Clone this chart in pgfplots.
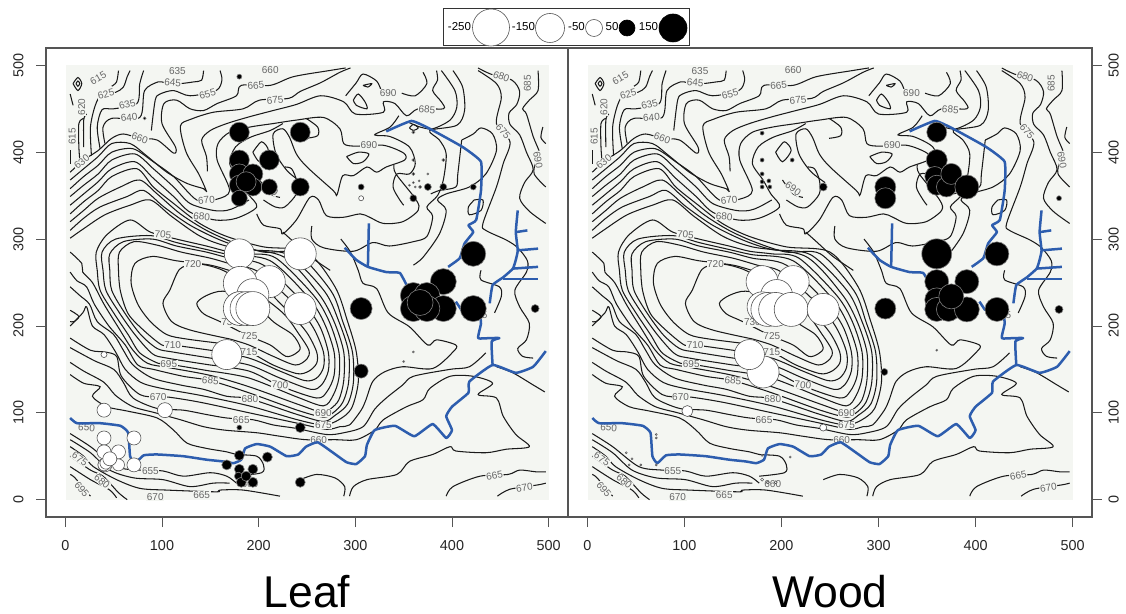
\documentclass[border=0pt]{standalone}
\usepackage{fontspec}
\setmainfont{Liberation Sans}
\usepackage{pgfplots}
\usepackage{pgfplotstable}
\pgfplotsset{compat=1.18}
\definecolor{bgc}{HTML}{F4F6F2}
\definecolor{river}{HTML}{2D5DAE}
\definecolor{boxc}{HTML}{555555}
\definecolor{lab}{HTML}{666666}
\definecolor{ctc}{HTML}{1A1A1A}
\tikzset{lbl/.style={fill=bgc,text=lab,inner sep=0.6pt,font=\fontsize{10}{10}\selectfont}}

\pgfplotstableread{
x y r
40 167 3
306 347 2.5
103 103 7.5
40 103 7
40 71 7
71 71 7
40 55 7
55 55 7
71 40 7
55 40 6
41 40 7
40 40 6
42 42 6
46 47 7
180 283 15
243 283 16
211 251 16
181 249 17
194 236 16
243 220 16
180 222 15
181 220 17
188 220 17
194 220 17
167 167 15
}\leafwhite
\pgfplotstableread{
x y r
180 487 2.5
82 439 1.5
180 83 2.5
243 83 5
306 360 3
360 347 3.5
375 360 3.5
391 360 3.5
422 360 3
360 423 1.5
360 391 1.5
391 391 1.5
375 375 1
360 375 1.5
366 367 1
360 365 1
356 362 1
362 360 1
367 360 1.5
360 170 1
350 159 1
180 423 10
243 423 10
180 391 10
211 391 10
180 375 10
194 375 10
180 362 10
194 360 9
211 360 8
243 360 9
187 366 10
180 347 8
180 51 5
209 49 5
167 40 5
180 35 5
194 35 5
179 27 4
182 20 5
194 20 5
187 27 5
243 20 5
422 283 12.5
391 251 13
360 235 13
374 235 13
360 220 13
391 220 13
374 220 13
367 227 13
422 220 13
306 220 11
306 148 7
486 220 4
}\leafblack
\pgfplotstableread{
x y r
243 83 3.5
103 102 5.5
212 251 16
180 251 16
195 235 16
180 222 15
186 219 17
194 219 17
210 219 17
243 219 16
181 147 16
167 167 15
71 71 1
71 75 1
71 40 1
40 54 1
43 40 1
55 40 1
180 23 1.5
186 20 1.5
194 20 1.5
}\woodwhite
\pgfplotstableread{
x y r
180 422 2
180 391 2
211 391 2
180 375 2
180 366 2
187 367 2
188 360 2
180 360 2
243 360 4
486 347 2.5
486 219 4
306 147 3.5
209 49 1
180 51 1
46 47 1
360 172 1
360 423 10
360 391 10.5
358 372 10
360 362 10
370 360 10
375 375 10.5
391 360 12
307 360 10.5
307 347 10.5
360 283 15
422 283 12
360 251 12
391 251 12
360 230 12
360 219 12
372 219 12
391 219 12.5
375 234 12.5
422 219 12
307 220 10.5
}\woodblack

\newcommand{\C}[1]{\addplot[ct] coordinates {#1};}
\newcommand{\LL}[4]{\node[lbl,rotate=#3] at (axis cs:#1,#2) {#4};}
\newcommand{\R}[1]{\addplot[riv] coordinates {#1};}

\newcommand{\terrain}{%
\addplot[draw=none,fill=bgc] coordinates {(1,0)(500,0)(500,500)(1,500)} --cycle;
% top left
\C{(8,479)(13,486)(17,479)(13,471)(8,479)}
\C{(11,479)(13,482)(15,479)(13,476)(11,479)}
\C{(5,467)(8,454)}
\C{(5,402)(5,387)}
\C{(19,439)(14,433)(14,406)(15,391)}
\C{(19,406)(19,437)(22,444)}
\C{(27,396)(26,429)(31,454)(38,467)(52,469)(60,475)(64,487)(67,494)}
\C{(36,404)(33,429)(38,449)(50,450)(74,456)(77,479)(81,494)}
\C{(41,410)(39,429)(48,439)(77,440)(82,471)(96,481)(103,480)(118,479)(133,481)(141,483)(143,494)}
\C{(55,494)(53,481)(48,476)}
\C{(89,425)(93,460)(98,467)(112,471)(129,465)(156,471)(162,483)(160,494)}
% peak bundle
\C{(5,377)(19,391)(34,402)(48,416)(60,421)(77,416)(95,414)(112,399)(114,406)(100,433)(102,456)(115,460)(129,450)(143,448)(157,456)(177,465)(182,477)(212,477)(236,487)(273,494)(290,497)}
\C{(5,368)(19,381)(34,395)(48,410)(67,410)(84,396)(105,377)(126,364)(143,358)(146,355)(138,375)(125,400)(119,430)(130,438)(153,446)(184,450)(201,460)(231,462)(243,470)(264,480)(284,492)(295,497)}
\C{(5,358)(19,372)(34,385)(48,400)(70,404)(91,389)(112,372)(136,345)(157,346)(170,356)(157,391)(158,410)(170,423)(191,429)(215,433)(239,437)(267,440)(284,427)(288,410)(300,407)(329,408)(350,399)(351,391)(332,383)(322,377)(312,383)(298,373)(287,373)(281,351)(277,356)(250,383)(239,398)(232,417)(225,427)(215,421)(218,398)(230,378)(245,365)}
\C{(147,378)(146,395)(141,414)(150,425)(167,433)(191,441)(215,448)(239,455)(264,465)(288,458)(300,444)(329,446)(329,458)(341,456)(353,442)(365,450)(391,450)(389,458)(380,471)(385,483)(384,494)}
\C{(5,349)(19,362)(34,375)(48,391)(72,398)(91,381)(112,360)(129,341)(153,333)(167,333)(177,337)(190,345)}
\C{(5,339)(19,352)(34,366)(48,381)(72,389)(91,370)(112,349)(129,331)(155,322)(177,324)(198,337)(189,352)(181,368)(170,387)(176,406)(191,417)(212,425)(225,433)}
\C{(194,400)(203,412)(210,402)(201,389)(194,400)}
\C{(201,368)(212,352)(222,348)}
\C{(227,383)(234,381)(239,368)(239,352)(227,337)(217,337)(205,345)}
\C{(198,329)(205,316)(222,312)(225,306)(239,322)(253,348)(262,345)(270,327)(287,325)(305,329)(315,325)(329,318)(349,320)(365,333)(363,345)(342,375)(340,385)}
\C{(290,465)(301,480)(308,490)(322,482)(327,470)}
% rings and left-edge lines
\C{(5,329)(19,343)(34,356)(48,372)(74,381)(91,360)(112,341)(139,318)(167,303)(205,291)(250,285)(279,245)(292,205)(301,170)(303,135)(296,105)(283,92)(267,86)(240,92)(190,108)(140,120)(100,128)(78,135)(62,150)(52,170)(40,190)(28,200)(22,222)(18,215)(5,200)}
\C{(5,320)(19,333)(34,347)(57,360)(77,368)(95,352)(119,329)(146,310)(174,296)(205,285)(240,283)(275,240)(287,205)(297,170)(298,135)(292,110)(279,97)(267,90)(240,98)(191,116)(167,119)(143,127)(119,132)(90,140)(70,155)(60,172)(50,190)(33,205)(25,225)(15,235)(5,245)}
\C{(5,310)(19,324)(36,337)(64,349)(81,356)(102,337)(129,316)(160,299)(190,288)(230,282)(268,240)(283,205)(293,170)(293,135)(287,112)(277,100)(267,95)(240,103)(190,123)(150,137)(122,142)(91,150)(75,155)(62,178)(45,200)(30,225)(22,245)(12,252)(5,262)}
\C{(5,301)(19,312)(41,328)(67,339)(88,345)(110,326)(140,303)(170,291)(225,280)(262,237)(278,205)(288,170)(288,137)(283,115)(275,105)(267,100)(240,110)(190,130)(150,143)(107,152)(85,157)(70,172)(55,198)(40,225)(28,250)(18,262)(17,272)(5,285)}
\C{(150,148)(107,156)(96,157)(77,169)(65,190)(50,215)(36,241)(33,264)(32,285)(43,305)(67,322)(88,308)(115,300)(146,292)(167,286)(190,283)(218,278)(257,235)(273,205)(283,170)(283,140)(277,120)(267,108)(240,118)(190,140)(150,148)}
\C{(150,155)(105,163)(90,168)(72,190)(56,215)(42,241)(39,264)(38,285)(52,300)(88,304)(115,296)(146,288)(170,282)(212,275)(252,232)(268,203)(278,170)(278,143)(271,125)(260,117)(222,131)(190,148)(150,155)}
\C{(150,163)(111,170)(95,174)(78,190)(62,214)(48,241)(46,264)(46,283)(60,297)(90,300)(115,292)(146,285)(170,278)(205,270)(245,228)(263,200)(272,170)(272,148)(265,132)(254,127)(222,140)(190,155)(150,163)}
\C{(150,172)(111,178)(100,178)(81,195)(65,214)(57,240)(55,264)(56,285)(71,297)(95,293)(120,285)(150,278)(175,270)(200,262)(240,222)(257,197)(267,170)(267,152)(260,140)(248,137)(222,148)(190,163)(150,172)}
\C{(160,180)(125,185)(105,190)(88,205)(75,225)(68,250)(72,272)(90,280)(115,275)(150,270)(175,262)(195,255)(232,215)(250,192)(260,170)(260,157)(252,148)(240,145)(215,155)(190,170)(160,180)}
\C{(170,185)(130,195)(110,205)(101,226)(108,241)(118,265)(132,271)(146,270)(165,263)(190,245)(225,215)(242,190)(252,172)(250,162)(238,155)(215,165)(190,178)(170,185)}
\C{(190,188)(160,205)(143,214)(136,226)(146,235)(163,240)(190,232)(215,205)(235,190)(243,175)(238,168)(228,165)(212,178)(190,188)}
% outer levels
\C{(285,300)(295,285)(303,264)(308,249)(322,243)(334,215)(356,199)(375,178)(384,184)(404,178)(401,170)(380,151)(349,153)(330,147)(318,136)(311,115)(306,103)(294,86)(284,84)(270,81)(240,88)(190,100)(140,112)(107,118)(96,118)(77,121)(58,142)(53,165)(41,170)(26,172)(5,186)}
\C{(435,169)(418,153)(398,150)(360,142)(349,132)(332,117)(320,104)(308,84)(288,77)(270,75)(239,82)(215,86)(194,92)(167,94)(146,98)(122,103)(95,105)(70,117)(60,135)(50,150)(30,160)(5,175)}
\C{(294,4)(298,15)(312,23)(343,29)(356,44)(380,52)(398,61)(404,56)(435,54)(456,58)(480,61)(466,75)(453,96)(446,117)(427,121)(442,134)(422,142)(398,142)(377,128)(370,115)(353,107)(329,92)(320,80)(301,69)(279,69)(249,69)(222,73)(198,77)(165,80)(143,84)(119,92)(93,100)(70,107)(52,120)(40,135)(19,148)(5,158)}
\C{(5,144)(19,134)(36,130)(28,119)(43,107)(64,102)(95,94)(112,80)(126,65)(146,59)(167,55)(177,52)(198,50)(205,40)(203,31)(177,27)}
\C{(5,218)(14,211)(9,205)(5,205)}
% bottom left
\C{(5,76)(26,61)(53,38)(77,34)(101,33)(122,27)(150,31)(167,27)(177,19)}
\C{(5,69)(26,54)(46,34)(71,25)(101,23)(129,15)(153,19)(170,19)}
\C{(5,61)(19,50)(29,38)(53,23)(77,13)(105,11)(156,9)(160,11)(184,11)(222,4)}
\C{(5,50)(26,34)(39,27)(55,8)(64,0)}
\C{(5,38)(26,23)(46,11)(53,2)}
\C{(5,29)(10,25)(26,4)}
\C{(243,23)(260,29)(279,25)(289,15)(288,4)}
\C{(394,4)(401,15)(429,27)(458,29)(470,34)(487,32)(497,32)}
\C{(447,4)(460,12)(489,17)(497,19)}
% upper right
\C{(249,439)(261,429)(261,419)(249,416)}
\C{(291,395)(303,400)(314,398)(308,389)(298,387)(291,395)}
\C{(298,460)(303,467)(310,458)(312,450)(301,454)(298,460)}
\C{(308,477)(317,479)(313,475)(308,477)}
\C{(348,468)(362,465)(374,479)(370,492)}
\C{(345,442)(336,429)(320,420)(336,418)(356,406)(362,387)(356,375)(343,375)(339,360)(346,345)(350,339)}
\C{(389,494)(403,471)(405,452)(398,437)(380,427)(367,429)(356,434)}
\C{(356,428)(360,432)(365,428)(360,425)(356,428)}
\C{(401,494)(411,475)(413,448)(405,431)(377,425)(387,414)(394,398)(391,368)(385,350)(374,337)(380,326)(374,303)(360,297)(335,292)(318,296)(298,286)(267,290)(255,300)(255,315)}
\C{(410,414)(422,421)(430,428)(442,421)(446,402)(435,375)(418,360)(394,352)(385,345)(394,333)(387,306)(370,279)(360,270)}
\C{(410,414)(406,375)(404,360)(387,356)(378,352)}
\C{(427,494)(446,479)(451,463)(446,433)(460,412)(453,387)(446,360)(432,318)(435,310)(456,299)(468,290)(478,275)(477,262)(465,241)(470,222)(480,203)(477,184)(468,174)(473,165)(484,163)}
\C{(427,497)(440,490)(462,483)(470,470)(467,455)(459,445)(460,432)(470,420)(477,400)(484,380)(475,365)(470,347)(480,332)(497,318)}
\C{(489,494)(489,471)(480,460)(473,450)(477,444)(484,418)(491,398)(487,390)(485,375)(497,360)}
\C{(494,429)(492,417)(497,410)}
\C{(423,345)(417,337)(418,328)(430,333)(432,345)(423,345)}
\C{(430,264)(430,253)(449,245)(451,234)(444,215)}
\C{(446,153)(463,146)(484,132)(496,124)}
\C{(225,308)(236,297)(253,280)(274,264)}
% labels
\LL{34}{485}{30}{615}\LL{42}{467}{15}{625}\LL{17}{452}{90}{620}\LL{7}{418}{90}{615}
\LL{64}{455}{15}{635}\LL{66}{440}{5}{640}\LL{17}{389}{40}{630}\LL{111}{480}{-5}{645}
\LL{116}{494}{0}{635}\LL{147}{467}{15}{655}\LL{77}{416}{-20}{660}\LL{212}{495}{0}{660}
\LL{197}{477}{5}{665}\LL{217}{460}{5}{675}\LL{146}{345}{5}{670}\LL{141}{326}{-5}{680}
\LL{101}{305}{-5}{705}\LL{132}{271}{0}{720}\LL{334}{468}{0}{690}\LL{374}{449}{-5}{685}
\LL{314}{408}{0}{690}\LL{451}{487}{-20}{680}\LL{478}{479}{90}{685}\LL{453}{424}{-50}{675}
\LL{489}{391}{-80}{690}\LL{111}{178}{0}{710}\LL{107}{156}{0}{695}\LL{150}{137}{-5}{685}
\LL{96}{118}{0}{670}\LL{191}{116}{0}{680}\LL{222}{132}{-5}{700}\LL{190}{188}{0}{725}
\LL{190}{170}{0}{715}\LL{182}{92}{0}{665}\LL{267}{100}{0}{690}\LL{267}{86}{0}{675}
\LL{262}{69}{0}{660}\LL{88}{33}{0}{655}\LL{22}{83}{-5}{650}\LL{15}{47}{-35}{675}
\LL{38}{21}{-40}{680}\LL{17}{12}{-50}{695}\LL{93}{3}{0}{670}\LL{141}{5}{0}{665}
\LL{444}{28}{10}{665}\LL{475}{14}{8}{670}\LL{212}{358}{-35}{690}\LL{191}{18}{0}{660}
\LL{428}{212}{0}{675}\LL{170}{204}{0}{730}
% river
\R{(5,94)(12,88)(36,88)(57,85)(65,77)(67,50)(72,42)(81,51)(95,52)(122,50)(146,46)(163,44)(174,42)(182,46)(186,59)(198,64)(212,61)(229,50)(241,52)(249,61)(261,66)(277,54)(291,43)(301,41)(310,50)(312,63)(320,80)(341,85)(361,73)(380,87)(394,71)(400,80)(394,96)(400,107)(417,123)(418,136)(442,155)(466,146)(484,153)(497,171)}
\R{(442,155)(441,182)(449,186)(439,186)(427,186)(430,203)(428,222)}
\R{(468,333)(466,308)(468,287)(466,276)(463,266)(453,256)(442,247)(439,226)}
\R{(466,308)(478,310)}\R{(468,287)(489,289)}\R{(463,266)(489,268)}\R{(453,254)(489,254)}
\R{(332,424)(358,436)(377,427)(411,406)(430,389)(430,356)(425,322)(417,316)(422,308)(413,295)(408,278)(396,268)}
\R{(289,290)(301,276)(313,268)(332,262)(346,261)(353,247)}
\R{(314,318)(313,268)}
\R{(404,228)(410,218)}
}

\pgfplotsset{
 ct/.style={draw=ctc,line width=1.05pt,smooth,tension=0.5,no markers},
 riv/.style={draw=river,line width=2.5pt,no markers,line join=round,smooth,tension=0.25},
 bub/.style 2 args={scatter,only marks,mark=*,
  scatter/use mapped color={draw=#2,fill=#1,line width=0.6pt},
  visualization depends on={\thisrow{r}\as\rr},
  scatter/@pre marker code/.append style={/tikz/mark size=\rr}},
 panel/.style={scale only axis,xmin=-20,xmax=520,ymin=-20,ymax=520,
  xtick={0,100,...,500},ytick={0,100,...,500},
  xtick pos=bottom,
  tick align=outside,major tick length=10pt,
  every tick/.style={draw=boxc,line width=0.7pt},
  axis line style={draw=boxc,line width=1.1pt},
  /pgf/number format/assume math mode=true,
  tick label style={font=\fontsize{14.4}{14.4}\selectfont,text=black!85},
  xticklabel style={yshift=-10pt},
  xlabel style={font=\fontsize{44.5}{44.5}\selectfont,at={(axis description cs:0.5,0)},anchor=base,yshift=-90pt},
 },
}

\begin{document}
\begin{tikzpicture}
\useasboundingbox (-46pt,-96pt) rectangle (1080pt,517pt);
\begin{axis}[panel,at={(0pt,0pt)},anchor=south west,width=522pt,height=469pt,
  xlabel={Leaf},ytick pos=left,yticklabel style={rotate=90,anchor=south,yshift=9pt}]
\terrain
\addplot[bub={white}{boxc}] table {\leafwhite};
\addplot[bub={black}{gray}] table {\leafblack};
\end{axis}
\begin{axis}[panel,at={(522pt,0pt)},anchor=south west,width=524pt,height=469pt,
  xlabel={Wood},ytick pos=right,yticklabel pos=right,yticklabel style={rotate=90,anchor=north,yshift=-3pt}]
\terrain
\addplot[bub={white}{boxc}] table {\woodwhite};
\addplot[bub={black}{gray}] table {\woodblack};
\end{axis}
\begin{axis}[scale only axis,at={(397pt,471pt)},anchor=south west,width=246pt,height=37pt,
  xmin=0,xmax=246,ymin=0,ymax=37,ticks=none,axis line style={draw=black!80,line width=1pt},clip=false]
\addplot[bub={white}{boxc}] table {
x y r
48 18.5 18.5
107 18 14.5
151 18 8.5
};
\addplot[bub={black}{black}] table {
x y r
184 18 8
230 18 14
};
\node[font=\fontsize{11.5}{11.5}\selectfont] at (axis cs:16.5,19) {-250};
\node[font=\fontsize{11.5}{11.5}\selectfont] at (axis cs:80.5,19) {-150};
\node[font=\fontsize{11.5}{11.5}\selectfont] at (axis cs:133.5,19) {-50};
\node[font=\fontsize{11.5}{11.5}\selectfont] at (axis cs:169,19) {50};
\node[font=\fontsize{11.5}{11.5}\selectfont] at (axis cs:205.5,19) {150};
\end{axis}
\end{tikzpicture}
\end{document}
